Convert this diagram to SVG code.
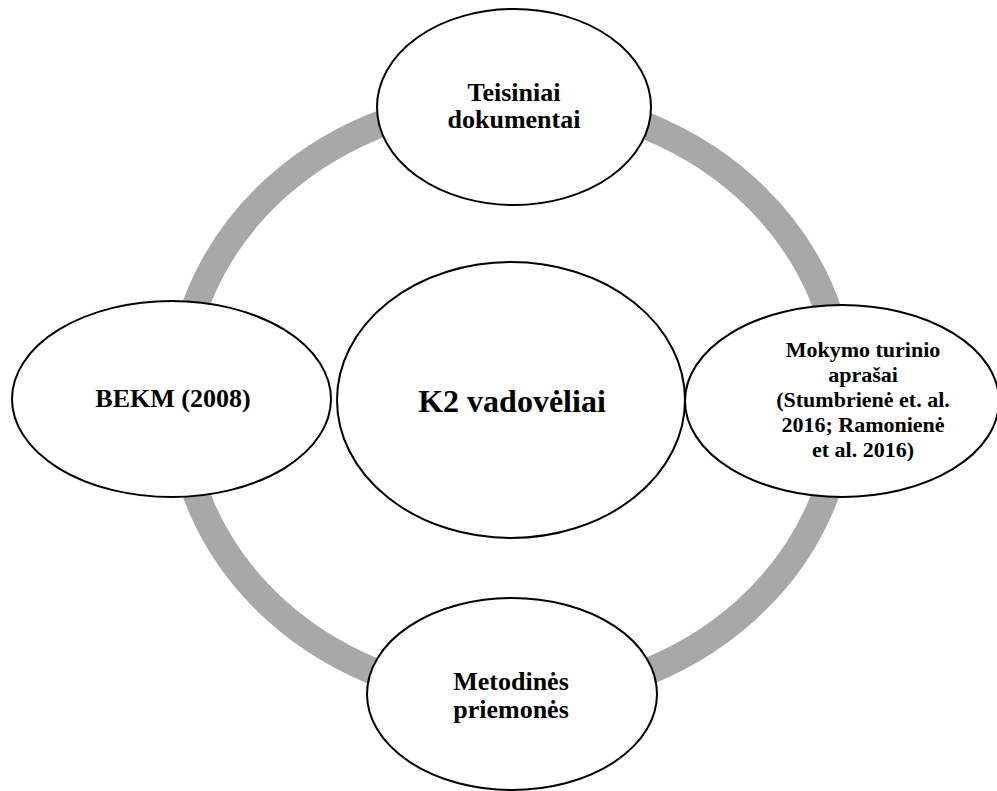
<svg xmlns="http://www.w3.org/2000/svg" width="997" height="791" viewBox="0 0 997 791">
<style>
.node{fill:#ffffff;stroke:#000000;stroke-width:2}
.ring{fill:none;stroke:#a8a8a8;stroke-width:27}
.t{font-family:"Liberation Serif","Times New Roman",serif;font-weight:bold;fill:#000000;text-anchor:middle}
</style>
<rect x="0" y="0" width="997" height="791" fill="#ffffff"/>
<g id="connectors">
<ellipse class="ring" cx="511" cy="399" rx="332" ry="299"/>
</g>
<g id="node-center">
<ellipse class="node" cx="511" cy="400" rx="174" ry="138"/>
<text class="t" x="512" y="412" font-size="32">K2 vadovėliai</text>
</g>
<g id="node-top">
<ellipse class="node" cx="514" cy="107" rx="137" ry="98"/>
<text class="t" x="514" y="101" font-size="26">Teisiniai</text>
<text class="t" x="514" y="128" font-size="26">dokumentai</text>
</g>
<g id="node-right">
<ellipse class="node" cx="842" cy="401" rx="157" ry="96"/>
<text class="t" x="863" y="357" font-size="22">Mokymo turinio</text>
<text class="t" x="863" y="382" font-size="22">aprašai</text>
<text class="t" x="863" y="407" font-size="22">(Stumbrienė et. al.</text>
<text class="t" x="863" y="432" font-size="22">2016; Ramonienė</text>
<text class="t" x="863" y="457" font-size="22">et al. 2016)</text>
</g>
<g id="node-left">
<ellipse class="node" cx="171.5" cy="399" rx="159.5" ry="98"/>
<text class="t" x="173" y="407" font-size="26">BEKM (2008)</text>
</g>
<g id="node-bottom">
<ellipse class="node" cx="512" cy="694" rx="145" ry="96"/>
<text class="t" x="511" y="690" font-size="26">Metodinės</text>
<text class="t" x="511" y="718" font-size="26">priemonės</text>
</g>
</svg>
